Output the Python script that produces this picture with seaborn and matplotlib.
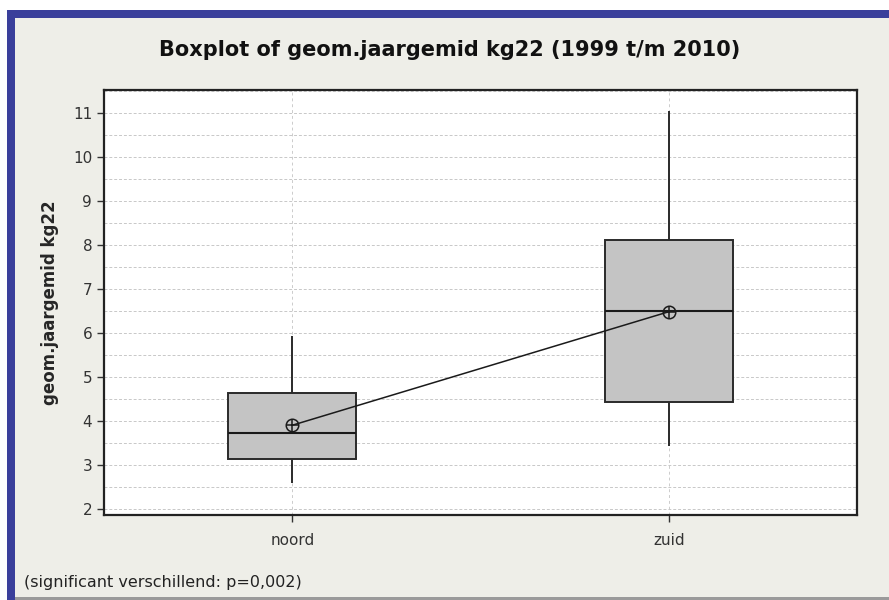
import matplotlib.pyplot as plt
import pandas as pd
import seaborn as sns
from matplotlib.patches import Rectangle
from matplotlib.ticker import MultipleLocator

# values
regions = ["noord", "zuid"]
# whisker low, Q1, median, Q3, whisker high
noord_values = [2.59, 3.14, 3.73, 4.63, 5.93]
zuid_values = [3.42, 4.42, 6.50, 8.12, 11.04]
region_means = [3.90, 6.48]
y_ticks = list(range(2, 12))

TITLE = "Boxplot of geom.jaargemid kg22 (1999 t/m 2010)"
Y_LABEL = "geom.jaargemid kg22"
FOOTNOTE = "(significant verschillend: p=0,002)"

BG = "#eeeee8"
BLUE = "#3a3f9b"
BOX_FILL = "#c4c4c4"


def main() -> None:
    sns.set_style("ticks")
    plt.rcParams["font.family"] = ["DejaVu Sans"]

    df = pd.DataFrame(
        {
            "region": ["noord"] * len(noord_values) + ["zuid"] * len(zuid_values),
            "value": noord_values + zuid_values,
        }
    )

    fig = plt.figure(figsize=(8.89, 6), dpi=100, facecolor="white")

    # blue frame + grey panel behind everything
    fig.patches.append(Rectangle((7 / 889, 0), 1, 590 / 600, transform=fig.transFigure,
                                 facecolor=BLUE, edgecolor="none", zorder=-3))
    fig.patches.append(Rectangle((15 / 889, 3 / 600), 1, 579 / 600, transform=fig.transFigure,
                                 facecolor=BG, edgecolor="none", zorder=-2))
    fig.patches.append(Rectangle((15 / 889, 0), 1, 3 / 600, transform=fig.transFigure,
                                 facecolor="#9a9a9a", edgecolor="none", zorder=-2))

    ax = fig.add_axes([104 / 889, 85 / 600, 753 / 889, 425 / 600])
    ax.set_facecolor("white")

    sns.boxplot(
        data=df,
        x="region",
        y="value",
        order=regions,
        width=0.34,
        color=BOX_FILL,
        saturation=1,
        linecolor="#2a2a2a",
        linewidth=1.4,
        showcaps=False,
        fliersize=0,
        whis=1.5,
        medianprops={"color": "#1a1a1a", "linewidth": 1.5},
        ax=ax,
    )

    # mean markers (circle with cross) joined by a line
    sns.pointplot(
        x=regions,
        y=region_means,
        order=regions,
        color="#1a1a1a",
        markers="o",
        errorbar=None,
        markersize=9,
        markerfacecolor="none",
        markeredgewidth=1.1,
        linewidth=1.1,
        ax=ax,
    )
    sns.pointplot(
        x=regions,
        y=region_means,
        order=regions,
        color="#1a1a1a",
        markers="+",
        linestyle="none",
        errorbar=None,
        markersize=9,
        markeredgewidth=1.1,
        ax=ax,
    )

    ax.set_xlim(-0.5, 1.5)
    ax.set_ylim(1.86, 11.52)
    ax.set_yticks(y_ticks)
    ax.yaxis.set_minor_locator(MultipleLocator(0.5))

    ax.set_axisbelow(True)
    ax.grid(axis="y", which="both", linestyle=(0, (3, 2)), color="#c8c8c8", linewidth=0.7)
    ax.grid(axis="x", which="major", linestyle=(0, (3, 3)), color="#cccccc", linewidth=0.7)

    ax.tick_params(axis="both", which="major", length=5, width=1, color="#333333",
                   labelsize=11, labelcolor="#333333")
    ax.tick_params(axis="x", which="major", pad=8)
    ax.tick_params(axis="y", which="minor", length=0)
    for spine in ax.spines.values():
        spine.set_visible(True)
        spine.set_color("#222222")
        spine.set_linewidth(1.6)

    ax.set_xlabel("")
    ax.set_ylabel(Y_LABEL, fontsize=12, fontweight="bold", labelpad=10)

    fig.text(0.506, 0.917, TITLE, ha="center", va="center", fontsize=15, fontweight="bold",
             color="#111111")
    fig.text(24 / 889, 1 - 582 / 600, FOOTNOTE, ha="left", va="center", fontsize=11.5,
             color="#222222")

    fig.savefig("out.png", dpi=100, facecolor=fig.get_facecolor())
    plt.close(fig)


if __name__ == "__main__":
    main()
